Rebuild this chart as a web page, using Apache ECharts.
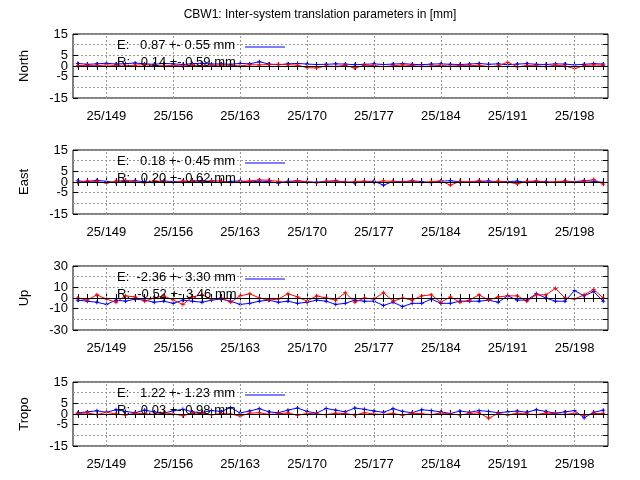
<!DOCTYPE html>
<html><head><meta charset="utf-8">
<script src="https://cdn.jsdelivr.net/npm/echarts@6/dist/echarts.min.js"></script>
<style>html,body{margin:0;background:#fff}#c{width:640px;height:480px}</style>
</head><body><div id="c"></div>
<script>
var days = [];
for (var d = 146; d <= 201; d++) days.push(d);
var tickDays = [149, 156, 163, 170, 177, 184, 191, 198];
var tickLabels = ['25/149', '25/156', '25/163', '25/170', '25/177', '25/184', '25/191', '25/198'];
var panelNames = ['North', 'East', 'Up', 'Tropo'];
var panelRange = [15, 15, 30, 15];
var panelStep = [5, 5, 10, 5];
var legendE = ['E:   0.87 +- 0.55 mm', 'E:   0.18 +- 0.45 mm', 'E:  -2.36 +- 3.30 mm', 'E:   1.22 +- 1.23 mm'];
var legendR = ['R:   0.14 +- 0.59 mm', 'R:   0.20 +- 0.62 mm', 'R:  -0.52 +- 3.46 mm', 'R:   0.03 +- 0.98 mm'];

var northE = [1.2,0.8,1.0,1.3,0.9,1.1,1.4,1.0,0.8,1.2,1.0,0.7,1.1,1.3,0.9,1.0,0.8,1.2,1.0,2.0,0.9,0.6,1.0,1.2,0.9,0.7,0.8,1.0,0.9,0.6,0.8,1.0,0.7,0.9,1.1,0.8,0.6,0.9,1.0,0.8,0.7,0.9,1.2,0.8,1.0,0.6,0.9,1.1,0.8,0.7,1.0,0.9,0.5,0.8,1.1,0.9];
var northR = [0.2,0.3,0.1,0.5,0.2,0.0,0.4,0.6,0.2,0.1,0.3,0.0,0.4,0.2,0.1,0.5,0.3,0.0,0.6,0.5,0.7,0.8,0.6,0.4,-0.8,-0.9,0.0,-0.2,0.3,-1.0,0.4,0.2,-0.3,0.1,0.5,0.2,-0.2,0.0,0.3,-0.1,0.2,0.1,0.4,-0.3,0.0,1.8,-0.4,0.2,0.1,-0.3,0.4,0.0,-1.2,0.2,0.5,0.3];
var eastE = [0.5,0.2,0.8,0.3,-0.2,0.4,0.6,0.1,-0.3,0.5,0.2,0.0,0.4,0.7,0.1,-0.2,0.3,0.5,0.0,0.4,0.2,-0.5,0.3,0.6,0.1,-0.1,0.3,0.5,0.0,-0.4,0.2,0.4,-1.5,0.3,0.1,0.5,0.2,-0.3,0.4,0.6,0.1,-0.2,0.3,0.5,0.0,0.2,0.4,-0.1,0.3,0.1,-0.3,0.4,0.2,0.6,0.3,-0.2];
var eastR = [-0.3,0.5,0.2,-0.5,0.4,0.8,0.0,-0.4,0.6,0.2,-0.2,0.5,0.3,0.0,0.7,0.4,-0.3,0.2,0.5,1.0,0.8,0.3,-0.2,0.5,0.1,-0.4,0.3,0.6,-0.1,0.2,0.4,-0.2,0.5,0.3,0.0,0.6,-0.3,0.2,0.5,-1.5,0.3,0.1,0.6,-0.2,0.4,0.0,-0.9,0.3,0.5,-0.1,0.2,0.4,0.0,0.3,1.2,-1.0];
var upE = [-2,-3,-4,-6,-2,-3,-1,-2,-4,-3,-5,-2,-3,-4,-2,-1,-3,-6,-5,-3,-2,-4,-3,-5,-4,-2,-3,-6,-5,-2,-3,-3,-7,-4,-8,-5,-5,-1,-5,-5,-3,-3,-3,-2,-4,2,-2,-2,4,0,-3,-3,7,2,6,-3];
var upR = [0,-2,3,-1,-4,2,1,-3,0,2,-2,-6,1,3,-1,0,-4,2,4,0,-2,-1,4,1,-3,2,0,-2,5,-4,0,-1,5,-3,0,-2,2,3,-4,1,-4,-2,3,-2,1,2,2,-3,3,3,9,0,-1,3,8,0];
var tropoE = [0.5,1.0,1.5,0.8,2.0,1.2,0.6,1.8,1.0,0.4,1.5,2.2,1.0,0.7,1.6,1.2,3.0,0.5,1.4,2.5,1.0,0.6,1.8,2.8,1.2,0.4,2.6,1.8,1.0,2.8,2.2,1.4,0.8,2.5,1.2,0.6,2.0,1.6,1.0,0.2,1.4,0.8,1.6,1.2,0.6,1.0,1.4,0.8,2.0,1.2,0.4,1.0,1.6,-1.8,0.8,1.8];
var tropoR = [0.2,0.5,-0.3,0.8,0.0,-0.5,0.4,0.1,-0.2,0.6,0.0,-0.8,0.3,0.5,-0.4,0.2,0.0,-1.0,0.4,0.6,-0.2,0.1,0.5,-0.6,0.3,0.0,-0.3,0.4,0.2,-0.5,0.6,0.0,-0.2,0.3,-0.6,0.4,0.1,-0.3,0.5,0.0,-0.4,0.2,0.6,-2.0,0.3,-0.5,0.4,0.0,-0.3,0.5,0.1,-0.2,0.4,-0.6,0.2,0.3];
var seriesE = [northE, eastE, upE, tropoE];
var seriesR = [northR, eastR, upR, tropoR];

var plus = 'path://M0,5L10,5M5,0L5,10';
var tops = [34, 150, 266, 382];
var h = 64, L = 73, W = 535;
var font = 'Liberation Sans';

var grids = [], xAxes = [], yAxes = [], series = [], graphic = [];
graphic.push({type: 'text', left: 'center', top: 9, style: {text: 'CBW1: Inter-system translation parameters in [mm]', fontSize: 12, fontFamily: font, fill: '#000'}});
for (var i = 0; i < 4; i++) {
  grids.push({left: L, top: tops[i], width: W, height: h, show: true, borderColor: '#000', borderWidth: 1});
  var r = panelRange[i], s = panelStep[i];
  var xl = {min: 145.5, max: 201.5, axisLine: {show: false}, splitLine: {show: false},
    axisTick: {show: true, inside: true, length: 4, customValues: days, lineStyle: {color: '#000'}}};
  xAxes.push(Object.assign({gridIndex: i, type: 'value',
    axisLabel: {customValues: tickDays, formatter: function (v) { return '25/' + v; }, margin: 12, color: '#000', fontSize: 13, fontFamily: font}}, xl));
  xAxes.push(Object.assign({gridIndex: i, type: 'value', position: 'top', axisLabel: {show: false}}, xl));
  yAxes.push({gridIndex: i, type: 'value', min: -r, max: r, interval: s, name: panelNames[i], nameLocation: 'middle', nameGap: 42,
    nameTextStyle: {color: '#000', fontSize: 13, fontFamily: font},
    axisLine: {show: false}, axisTick: {show: true, inside: true, length: 5, lineStyle: {color: '#000'}},
    axisLabel: {color: '#000', fontSize: 13, fontFamily: font, margin: 5, hideOverlap: false, showMinLabel: true, showMaxLabel: true},
    splitLine: {show: true, lineStyle: {color: '#999', type: [2, 2]}}});
  yAxes.push({gridIndex: i, type: 'value', position: 'right', min: -r, max: r, interval: s,
    axisLine: {show: false}, axisTick: {show: true, inside: true, length: 5, lineStyle: {color: '#000'}},
    axisLabel: {show: false}, splitLine: {show: false}});
  var e = [], rr = [];
  for (var k = 0; k < days.length; k++) {
    e.push([days[k], seriesE[i][k]]);
    rr.push([days[k], seriesR[i][k]]);
  }
  series.push({type: 'line', xAxisIndex: 2 * i, yAxisIndex: 2 * i, data: [], silent: true,
    markLine: {symbol: 'none', silent: true, label: {show: false},
      data: tickDays.map(function (t) { return {xAxis: t, lineStyle: {color: '#999', type: [2, 2], width: 1}}; }).concat([{yAxis: 0, lineStyle: {color: '#000', type: 'solid', width: 1}}])}});
  series.push({type: 'line', xAxisIndex: 2 * i, yAxisIndex: 2 * i, data: e, symbol: plus, symbolSize: 4, showSymbol: true,
    lineStyle: {color: '#00f', width: 1}, itemStyle: {color: '#00f', borderColor: '#00f', borderWidth: 1}});
  series.push({type: 'line', xAxisIndex: 2 * i, yAxisIndex: 2 * i, data: rr, symbol: plus, symbolSize: 4, showSymbol: true,
    lineStyle: {color: '#f00', width: 1}, itemStyle: {color: '#f00', borderColor: '#f00', borderWidth: 1}});
  graphic.push({type: 'text', left: 117, top: tops[i] + 5, style: {text: legendE[i], fontSize: 13, fontFamily: font, fill: '#000'}, z: 100});
  graphic.push({type: 'line', shape: {x1: 245, y1: tops[i] + 13, x2: 285, y2: tops[i] + 13}, style: {stroke: '#00f', lineWidth: 1}, z: 100});
  graphic.push({type: 'text', left: 117, top: tops[i] + 22, style: {text: legendR[i], fontSize: 13, fontFamily: font, fill: '#000'}, z: 100});
}
var chart = echarts.init(document.getElementById('c'));
chart.setOption({animation: false, grid: grids, xAxis: xAxes, yAxis: yAxes, series: series, graphic: graphic});
</script></body></html>
